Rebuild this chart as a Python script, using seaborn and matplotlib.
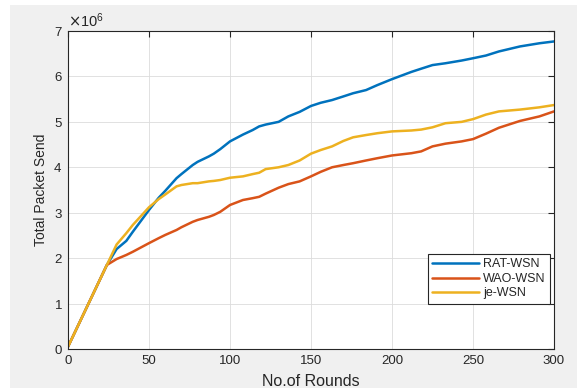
import matplotlib
matplotlib.use("Agg")
import matplotlib.pyplot as plt
from matplotlib.patches import Rectangle
from matplotlib.ticker import ScalarFormatter
import seaborn as sns
import pandas as pd

rounds = [0, 12, 24, 30, 36, 40, 50, 56, 60, 67, 70, 77, 80, 87, 90, 94, 100, 108,
          114, 118, 122, 130, 136, 143, 150, 156, 163, 170, 176, 184, 191, 200,
          212, 218, 225, 233, 243, 250, 258, 266, 279, 291, 300]
rat_wsn = [0.05, 0.95, 1.85, 2.2, 2.38, 2.58, 3.06, 3.33, 3.48, 3.76, 3.85, 4.05, 4.12,
           4.24, 4.30, 4.40, 4.57, 4.72, 4.82, 4.90, 4.94, 5.0, 5.12, 5.22, 5.35, 5.42,
           5.48, 5.56, 5.63, 5.70, 5.81, 5.94, 6.10, 6.17, 6.25, 6.29, 6.35, 6.40, 6.46,
           6.55, 6.66, 6.73, 6.77]
wao_wsn = [0.05, 0.95, 1.85, 1.98, 2.07, 2.14, 2.33, 2.44, 2.51, 2.62, 2.68, 2.80, 2.84,
           2.91, 2.95, 3.02, 3.17, 3.28, 3.32, 3.35, 3.42, 3.55, 3.63, 3.69, 3.80, 3.90,
           4.0, 4.05, 4.09, 4.15, 4.20, 4.26, 4.31, 4.35, 4.46, 4.52, 4.57, 4.62, 4.74,
           4.87, 5.02, 5.12, 5.23]
je_wsn = [0.05, 0.95, 1.85, 2.3, 2.55, 2.73, 3.12, 3.30, 3.40, 3.58, 3.61, 3.65, 3.65,
          3.69, 3.70, 3.72, 3.77, 3.80, 3.85, 3.88, 3.96, 4.0, 4.05, 4.15, 4.30, 4.38,
          4.46, 4.58, 4.66, 4.71, 4.75, 4.79, 4.81, 4.83, 4.88, 4.97, 5.0, 5.06, 5.16,
          5.23, 5.27, 5.32, 5.37]
series_names = ["RAT-WSN", "WAO-WSN", "je-WSN"]
colors = ["#0072BD", "#D95319", "#EDB120"]
scale = 1e6

frames = []
for name, vals in zip(series_names, [rat_wsn, wao_wsn, je_wsn]):
    frames.append(pd.DataFrame({"Rounds": rounds,
                                "Packets": [v * scale for v in vals],
                                "Method": name}))
df = pd.concat(frames, ignore_index=True)

sns.set_style("white")
plt.rcParams["font.family"] = ["Liberation Sans", "DejaVu Sans"]

fig = plt.figure(figsize=(5.77, 3.88), dpi=100)
fig.patch.set_facecolor("white")
fig.patches.append(Rectangle((10 / 577, 0), 1, (388 - 5) / 388, transform=fig.transFigure,
                             facecolor="#f0f0f0", edgecolor="none", zorder=-10))
ax = fig.add_axes([68 / 577, (388 - 349) / 388, (554 - 68) / 577, (349 - 31) / 388])
ax.set_facecolor("white")

sns.lineplot(data=df, x="Rounds", y="Packets", hue="Method", hue_order=series_names,
             palette=colors, linewidth=1.8, ax=ax, estimator=None, sort=False)

ax.set_xlim(0, 300)
ax.set_ylim(0, 7e6)
ax.set_xticks([0, 50, 100, 150, 200, 250, 300])
ax.set_yticks([i * 1e6 for i in range(8)])
fmt = ScalarFormatter(useMathText=True)
fmt.set_powerlimits((0, 0))
ax.yaxis.set_major_formatter(fmt)
ax.yaxis.get_offset_text().set_fontsize(10.5)
ax.yaxis.get_offset_text().set_color("#262626")

ax.grid(True, color="#dcdcdc", linewidth=0.6)
ax.tick_params(direction="in", top=True, right=True, length=4, width=0.8,
               labelsize=9.5, colors="#262626", pad=4)
for s in ax.spines.values():
    s.set_color("#262626")
    s.set_linewidth(0.8)

ax.set_xlabel("No.of Rounds", fontsize=11.5, color="#262626", labelpad=5)
ax.set_ylabel("Total Packet Send", fontsize=10, color="#262626", labelpad=4)

leg = ax.legend(loc="lower right", bbox_to_anchor=(0.992, 0.142), borderaxespad=0,
                fontsize=9, frameon=True, fancybox=False, framealpha=1,
                handlelength=3.8, handletextpad=0.3, labelspacing=0.2,
                borderpad=0.35)
leg.get_frame().set_edgecolor("#262626")
leg.get_frame().set_linewidth(0.8)
leg.set_title(None)

fig.savefig("out.png", dpi=100, facecolor=fig.get_facecolor())
